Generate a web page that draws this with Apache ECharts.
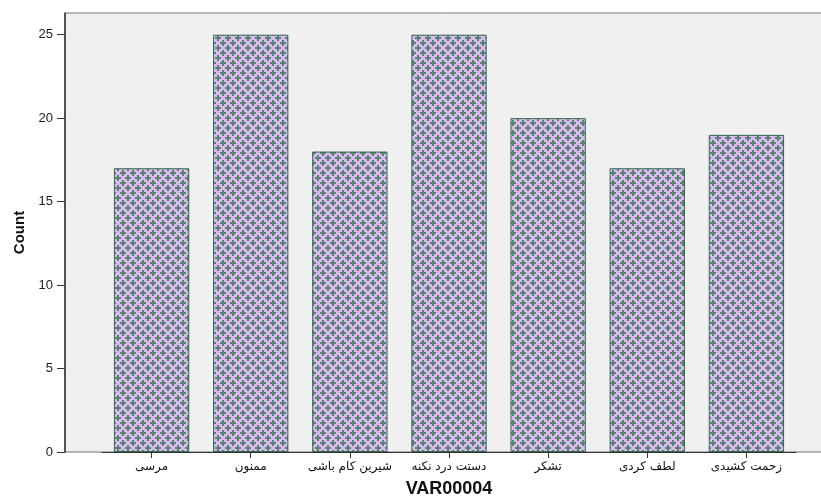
<!DOCTYPE html>
<html><head><meta charset="utf-8">
<script src="https://cdn.jsdelivr.net/npm/echarts@6/dist/echarts.min.js"></script>
<style>html,body{margin:0;background:#fff}#c{width:821px;height:497px}</style>
</head><body><div id="c"></div>
<script>
const categories = ['مرسی','ممنون','شیرین کام باشی','دستت درد نکنه','تشکر','لطف کردی','زحمت کشیدی'];
const counts = [17, 25, 18, 25, 20, 17, 19];
const yTicks = [0, 5, 10, 15, 20, 25];
const yMax = 26.3;

function makeTile() {
  const c = document.createElement('canvas');
  c.width = 10; c.height = 10;
  const g = c.getContext('2d');
  g.fillStyle = '#ddb7f1'; g.fillRect(0, 0, 10, 10);
  g.fillStyle = '#52856b';
  [[3, 3], [8, 8]].forEach(([x, y]) => {
    for (const dx of [-10, 0, 10]) for (const dy of [-10, 0, 10]) {
      g.fillRect(x + dx - 3, y + dy - 1, 6, 2);
      g.fillRect(x + dx - 1, y + dy - 3, 2, 6);
    }
  });
  return c;
}

const chart = echarts.init(document.getElementById('c'), null, {renderer: 'canvas'});
chart.setOption({
  animation: false,
  backgroundColor: '#ffffff',
  textStyle: {fontFamily: 'Liberation Sans, DejaVu Sans'},
  grid: [
    {left: 65, top: 13, right: -12, bottom: 45, outerBoundsMode: 'none', show: true, backgroundColor: '#f0f0f0', borderColor: '#777', borderWidth: 1},
    {left: 102, right: 25, top: 13, bottom: 45, outerBoundsMode: 'none'}
  ],
  xAxis: [
    {gridIndex: 0, type: 'value', min: 0, max: 1, show: false},
    {gridIndex: 1, type: 'category', data: categories,
     axisLine: {show: true, lineStyle: {color: '#333', width: 1}},
     axisTick: {show: true, alignWithLabel: true, length: 6, lineStyle: {color: '#333'}},
     axisLabel: {interval: 0, fontSize: 12, color: '#111', margin: 9, fontFamily: 'DejaVu Sans'},
     name: 'VAR00004', nameLocation: 'middle', nameGap: 28,
     nameTextStyle: {fontSize: 18, fontWeight: 'bold', color: '#111', fontFamily: 'Liberation Sans'}}
  ],
  yAxis: [
    {gridIndex: 0, type: 'value', min: 0, max: yMax,
     axisLine: {show: true, lineStyle: {color: '#333', width: 1.5}},
     axisTick: {show: true, length: 8, customValues: yTicks, lineStyle: {color: '#333'}},
     axisLabel: {customValues: yTicks, fontSize: 13, color: '#222', margin: 12},
     splitLine: {show: false},
     name: 'Count', nameLocation: 'middle', nameGap: 38,
     nameTextStyle: {fontSize: 15, fontWeight: 'bold', color: '#111'}},
    {gridIndex: 1, type: 'value', min: 0, max: yMax, show: false}
  ],
  series: [{
    type: 'bar', xAxisIndex: 1, yAxisIndex: 1, data: counts,
    barCategoryGap: '24%',
    itemStyle: {color: {image: makeTile(), repeat: 'repeat'}, borderColor: '#2e6b4e', borderWidth: 1}
  }]
});
</script>
</body></html>
